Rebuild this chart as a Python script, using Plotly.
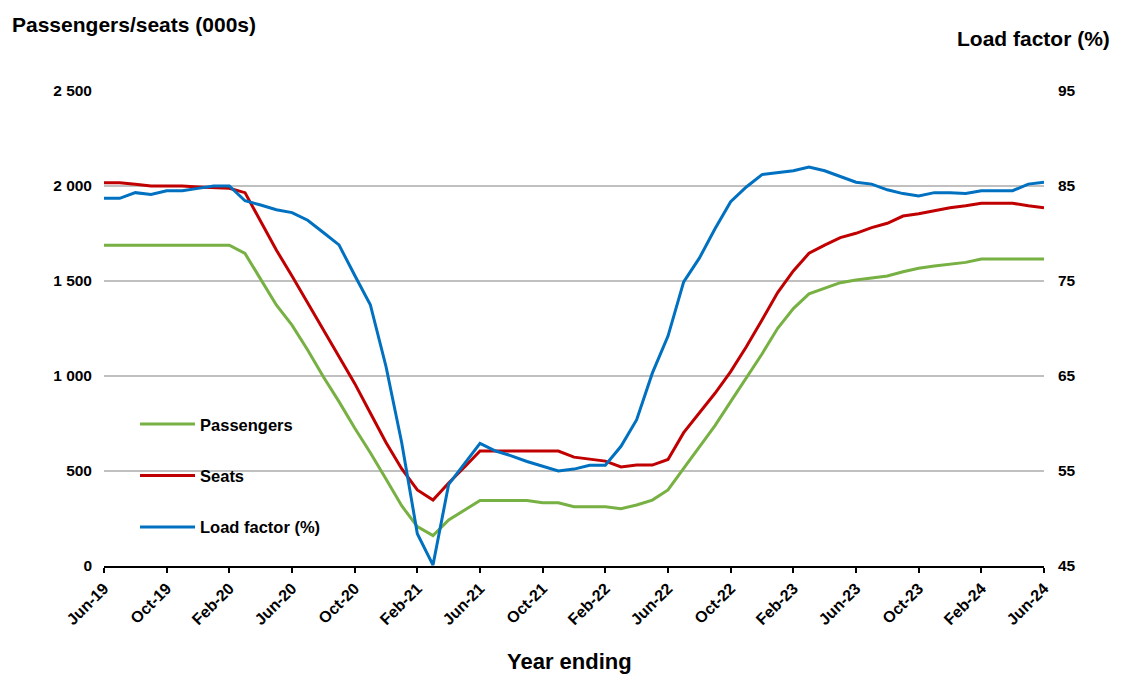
import plotly.graph_objects as go

months = ["Jun-19","Jul-19","Aug-19","Sep-19","Oct-19","Nov-19","Dec-19","Jan-20","Feb-20","Mar-20",
          "Apr-20","May-20","Jun-20","Jul-20","Aug-20","Sep-20","Oct-20","Nov-20","Dec-20","Jan-21",
          "Feb-21","Mar-21","Apr-21","May-21","Jun-21","Jul-21","Aug-21","Sep-21","Oct-21","Nov-21",
          "Dec-21","Jan-22","Feb-22","Mar-22","Apr-22","May-22","Jun-22","Jul-22","Aug-22","Sep-22",
          "Oct-22","Nov-22","Dec-22","Jan-23","Feb-23","Mar-23","Apr-23","May-23","Jun-23","Jul-23",
          "Aug-23","Sep-23","Oct-23","Nov-23","Dec-23","Jan-24","Feb-24","Mar-24","Apr-24","May-24","Jun-24"]

passengers = [1688,1688,1688,1688,1688,1688,1688,1688,1688,1645,
              1509,1374,1268,1137,996,865,726,596,458,317,
              207,160,242,295,345,345,345,345,333,333,
              312,312,312,302,321,347,400,514,628,739,
              865,988,1116,1251,1355,1432,1461,1491,1505,1514,
              1526,1549,1567,1579,1588,1598,1616,1616,1616,1616,1616]

seats = [2017,2017,2009,2000,2000,2000,1995,1990,1988,1965,
         1812,1663,1526,1383,1242,1102,961,805,650,512,
         400,347,437,520,605,605,605,605,605,605,
         573,563,552,521,531,531,561,702,804,909,
         1023,1154,1295,1439,1553,1646,1689,1728,1751,1781,
         1804,1842,1854,1868,1886,1896,1909,1909,1909,1896,1886]

load_factor = [83.7,83.7,84.3,84.1,84.5,84.5,84.75,85.0,85.0,83.45,
               83.0,82.5,82.2,81.4,80.1,78.8,75.6,72.5,66.0,58.0,
               48.4,45.1,53.6,55.8,57.9,57.1,56.6,56.0,55.5,55.0,
               55.2,55.6,55.6,57.6,60.4,65.3,69.2,74.9,77.4,80.5,
               83.35,84.9,86.2,86.4,86.6,87.0,86.6,86.0,85.4,85.2,
               84.6,84.2,83.95,84.3,84.3,84.2,84.5,84.5,84.5,85.2,85.4]

left_ticks = [0, 500, 1000, 1500, 2000, 2500]
left_tick_text = ["0", "500", "1 000", "1 500", "2 000", "2 500"]
right_ticks = [45, 55, 65, 75, 85, 95]

idx = list(range(len(months)))
tick_idx = idx[::4]
tick_text = months[::4]

FONT = "Liberation Sans"
GREEN = "#77B043"
RED = "#C00000"
BLUE = "#0070C0"

fig = go.Figure()
fig.add_trace(go.Scatter(x=idx, y=passengers, name="Passengers", mode="lines",
                         line=dict(color=GREEN, width=3), legendgroup="a"))
fig.add_trace(go.Scatter(x=idx, y=seats, name="Seats", mode="lines",
                         line=dict(color=RED, width=3), legendgroup="b"))
fig.add_trace(go.Scatter(x=idx, y=load_factor, name="Load factor (%)", mode="lines",
                         line=dict(color=BLUE, width=3), legendgroup="c", yaxis="y2"))

fig.update_layout(
    width=1113, height=667,
    margin=dict(l=96, r=77, t=83, b=109),
    paper_bgcolor="white", plot_bgcolor="white",
    font=dict(family=FONT, color="black"),
    showlegend=True,
    legend=dict(x=0.033, y=0.335, xanchor="left", yanchor="top",
                bgcolor="rgba(0,0,0,0)", tracegroupgap=27, itemwidth=55,
                font=dict(family=FONT, size=16.5, weight="bold", color="black")),
    xaxis=dict(range=[0, 60], tickmode="array", tickvals=tick_idx, ticktext=tick_text,
               tickangle=-45, ticks="outside", ticklen=5, tickwidth=1.5, tickcolor="black",
               showline=True, linecolor="black", linewidth=1.5, showgrid=False, zeroline=False,
               tickfont=dict(family=FONT, size=16, weight="bold", color="black")),
    yaxis=dict(range=[0, 2500], tickmode="array", tickvals=left_ticks, ticktext=left_tick_text,
               showgrid=True, gridcolor="#C0C0C0", gridwidth=2, zeroline=False, showline=False,
               ticks="", ticklabelstandoff=11,
               tickfont=dict(family=FONT, size=15.5, weight="bold", color="black")),
    yaxis2=dict(range=[45, 95], tickmode="array", tickvals=right_ticks, overlaying="y",
                side="right", showgrid=False, zeroline=False, showline=False, ticks="",
                ticklabelstandoff=13,
                tickfont=dict(family=FONT, size=15.5, weight="bold", color="black")),
    annotations=[
        dict(text="Passengers/seats (000s)", xref="paper", yref="paper", x=-0.1, y=1.139,
             xanchor="left", yanchor="middle", showarrow=False,
             font=dict(family=FONT, size=21, weight="bold", color="black")),
        dict(text="Load factor (%)", xref="paper", yref="paper", x=1.0723, y=1.111,
             xanchor="right", yanchor="middle", showarrow=False,
             font=dict(family=FONT, size=21, weight="bold", color="black")),
        dict(text="Year ending", xref="paper", yref="paper", x=0.495, y=-0.2,
             xanchor="center", yanchor="middle", showarrow=False,
             font=dict(family=FONT, size=22, weight="bold", color="black")),
    ],
)

fig.write_html("out.html")
